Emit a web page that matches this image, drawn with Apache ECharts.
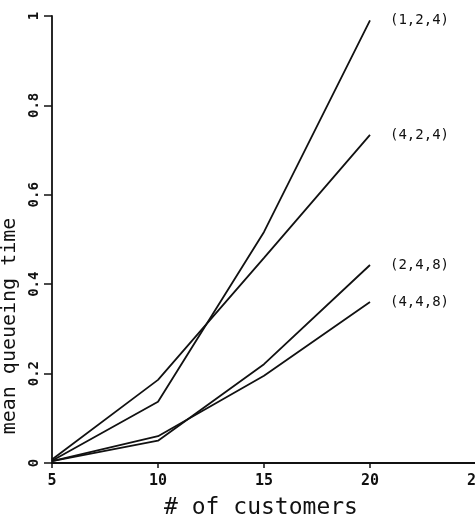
<!DOCTYPE html>
<html>
<head>
<meta charset="utf-8">
<script src="https://cdn.jsdelivr.net/npm/echarts@6/dist/echarts.min.js"></script>
<style>
  html, body { margin: 0; padding: 0; background: #fff; }
  #chart { width: 475px; height: 521px; }
</style>
</head>
<body>
<div id="chart"></div>
<script>
// customers on x, mean queueing time on y
const customers = [5, 10, 15, 20];
const seriesNames = ["(1,2,4)", "(4,2,4)", "(2,4,8)", "(4,4,8)"];
const q124 = [0.005, 0.137, 0.517, 0.99];
const q424 = [0.008, 0.186, 0.459, 0.734];
const q248 = [0.004, 0.05, 0.221, 0.443];
const q448 = [0.004, 0.06, 0.195, 0.36];
const values = [q124, q424, q248, q448];

const mono = "DejaVu Sans Mono";
const ink = "#111";

let chart = echarts.init(document.getElementById("chart"));

let series = seriesNames.map((name, i) => {
  return {
    name: name,
    type: "line",
    data: customers.map((c, j) => [c, values[i][j]]),
    symbol: "none",
    lineStyle: { color: ink, width: 1.8 },
    endLabel: {
      show: true,
      formatter: "{a}",
      distance: 20,
      color: ink,
      fontFamily: mono,
      fontSize: 14,
    },
  };
});

chart.setOption({
  backgroundColor: "#fff",
  animation: false,
  grid: { left: 52, right: -1, top: 16, bottom: 58, containLabel: false, outerBoundsMode: "none" },
  xAxis: {
    type: "value",
    min: 5,
    max: 25,
    interval: 5,
    axisLine: { lineStyle: { color: ink, width: 1.8 } },
    axisTick: { length: 5, lineStyle: { color: ink, width: 1.5 } },
    splitLine: { show: false },
    axisLabel: { color: ink, fontFamily: mono, fontSize: 15, fontWeight: "bold", margin: 11, showMaxLabel: true },
  },
  yAxis: {
    type: "value",
    min: 0,
    max: 1,
    interval: 0.2,
    axisLine: { show: true, lineStyle: { color: ink, width: 1.8 } },
    axisTick: { show: true, length: 8, lineStyle: { color: ink, width: 1.5 } },
    splitLine: { show: false },
    axisLabel: {
      color: ink,
      fontFamily: mono,
      fontSize: 14,
      fontWeight: "bold",
      rotate: 90,
      margin: 11,
      formatter: (v) => (v === 0 || v === 1 ? String(v) : v.toFixed(1)),
    },
  },
  graphic: [
    {
      type: "text",
      x: 10,
      y: 326,
      rotation: Math.PI / 2,
      style: {
        text: "mean queueing time",
        fontFamily: mono,
        fontSize: 20,
        fill: ink,
        align: "center",
        verticalAlign: "middle",
      },
    },
    {
      type: "text",
      x: 261,
      y: 508,
      style: {
        text: "# of customers",
        fontFamily: mono,
        fontSize: 23,
        fill: ink,
        align: "center",
        verticalAlign: "middle",
      },
    },
  ],
  series: series,
});
</script>
</body>
</html>
